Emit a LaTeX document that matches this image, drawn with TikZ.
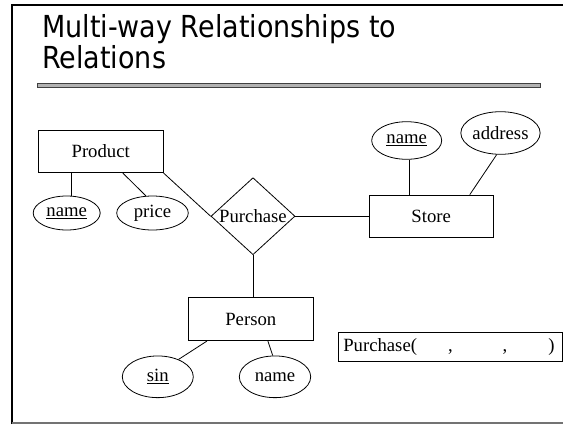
\documentclass[tikz,border=0pt]{standalone}
\usepackage{fontspec}
\setmainfont{Liberation Serif}
\newfontfamily\titlefont{DejaVu Sans}
\usetikzlibrary{shapes.geometric}
\begin{document}
\begin{tikzpicture}[x=1pt,y=-1pt,
  er/.style={draw, line width=0.8pt, inner sep=0pt, font=\fontsize{18.7}{22}\selectfont},
  entity/.style={er, rectangle},
  attr/.style={er, ellipse},
  relship/.style={er, diamond, aspect=1.1, minimum width=84pt, minimum height=77pt},
  link/.style={line width=0.8pt},
  ttl/.style={anchor=base west, inner sep=0pt, font=\titlefont\fontsize{30.3}{32}\selectfont}]
\useasboundingbox (0,0) rectangle (563,424);

% slide frame
\draw[line width=2.3pt] (12,424) -- (12,5) -- (563,5);
\draw[black!55, line width=1.5pt] (12,423.2) -- (563,423.2);

% title and rule
\node[ttl] (title1) at (42,37.5) {\scalebox{0.89}[1]{Multi-way Relationships to}};
\node[ttl] (title2) at (42,68.5) {\scalebox{0.89}[1]{Relations}};
\draw[draw=black!75, fill=black!30, line width=0.9pt] (37.8,83.2) rectangle (540.2,87.6);

% entities
\node[entity, minimum width=125pt, minimum height=42.7pt] (prod) at (100.7,151.3) {Product};
\node[entity, minimum width=124pt, minimum height=42.3pt] (store) at (431.2,216.2) {Store};
\node[entity, minimum width=125pt, minimum height=43pt] (person) at (250.8,319.2) {Person};

% relationship
\node[relship] (buy) at (253,216.2) {Purchase};

% attributes
\node[attr, minimum width=67pt, minimum height=34pt] (pname) at (66.7,213) {\underline{name}};
\node[attr, minimum width=71.6pt, minimum height=34pt] (price) at (152.5,213) {price};
\node[attr, minimum width=70pt, minimum height=37.6pt] (sname) at (406.7,140.5) {\underline{name}};
\node[attr, minimum width=71pt, minimum height=42.6pt] (addr) at (500.5,133) {address};
\node[attr, minimum width=71pt, minimum height=41.7pt] (sin) at (157.8,376.8) {\underline{sin}};
\node[attr, minimum width=71.4pt, minimum height=41.7pt] (ename) at (275,376.8) {name};

% relation schema
\node[er, rectangle, minimum width=224.4pt, minimum height=28.3pt] (schema) at (450.5,346.8)
  {\makebox[224.4pt][l]{\hspace{5pt}Purchase(\hspace{31pt},\hspace{50pt},\hspace{41pt})}};

% connectors
\draw[link] ([xshift=4.3pt]pname.north) -- ([xshift=4.3pt]pname.north |- prod.south);
\draw[link] ([xshift=85pt]prod.south west) -- (price.111);
\draw[link] (prod.south east) -- (buy.west);
\draw[link] (buy.east) -- (store.west);
\draw[link] (buy.south) -- (buy.south |- person.north);
\draw[link] ([xshift=2.3pt]sname.south) -- ([xshift=2.3pt]sname.south |- store.north);
\draw[link] (addr.260) -- ([xshift=101pt]store.north west);
\draw[link] ([xshift=19pt]person.south west) -- (sin.40);
\draw[link] ([xshift=80pt]person.south west) -- (ename.96);
\end{tikzpicture}
\end{document}
